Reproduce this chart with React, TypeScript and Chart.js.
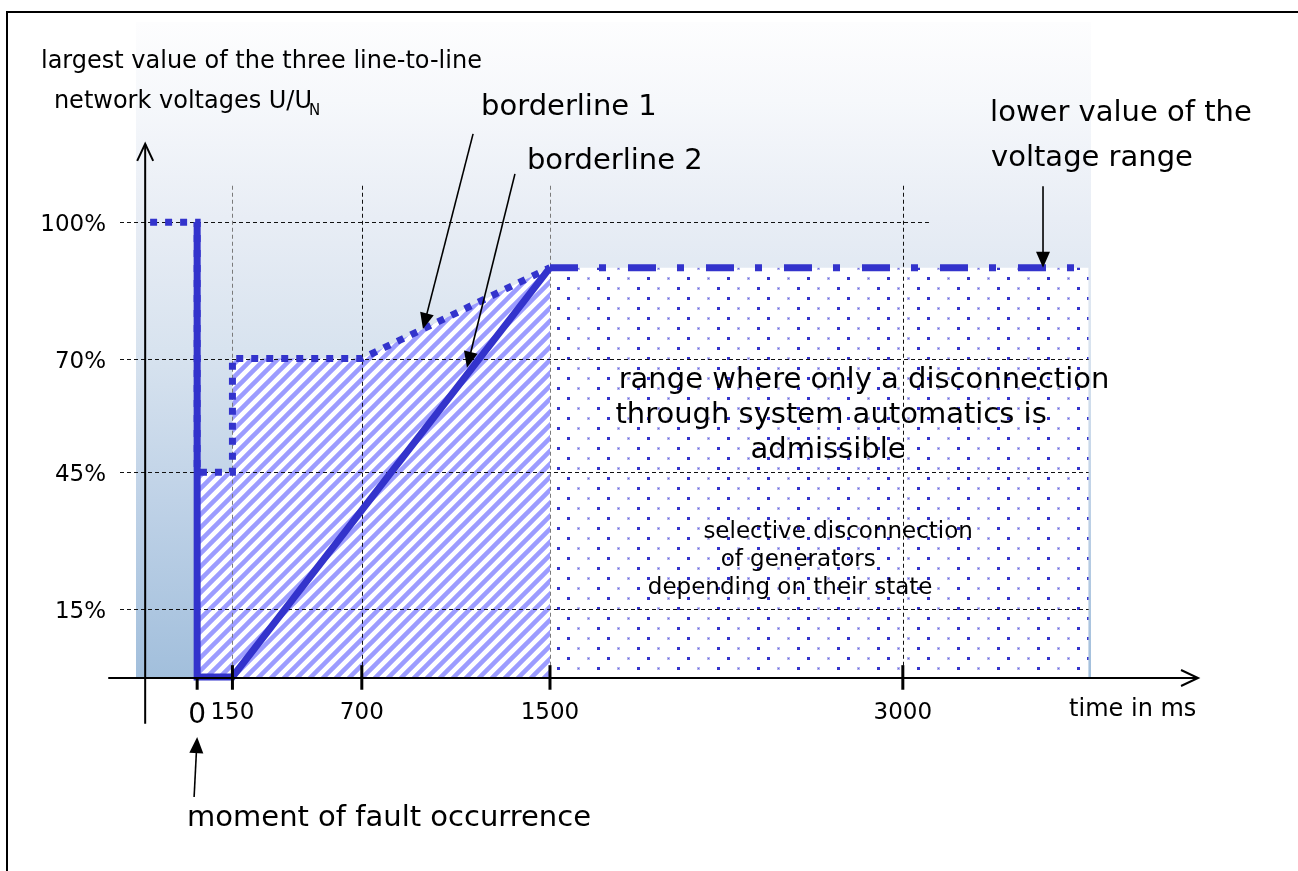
import { useEffect, useRef } from 'react';
import { Chart, registerables } from 'chart.js';

Chart.register(...registerables);

const FONT = '"DejaVu Sans", Verdana, sans-serif';

// ---- axis ticks ----
const xTicks = [0, 150, 700, 1500, 3000];
const yTicks = [15, 45, 70, 100];

// ---- series (time in ms, voltage in % of U_N) ----
const borderline1Time = [-200, 0, 0, 150, 150, 700, 1500];
const borderline1Level = [100, 100, 45, 45, 70, 70, 90];

const borderline2Time = [0, 0, 150, 1500];
const borderline2Level = [100, 0, 0, 90];

const lowerLimitTime = [1500, 3730];
const lowerLimitLevel = [90, 90];

const automaticsRangeTime = [1500, 3790];
const automaticsRangeLevel = [90, 90];

const BLUE = '#3333cc';

const toPoints = (xs: number[], ys: number[]) => xs.map((x, i) => ({ x, y: ys[i] }));

// annotation texts in data coordinates (time, level)
const notes = [
  { text: 'largest value of the three line-to-line', t: -664, v: 135.2, size: 24, align: 'left' },
  { text: 'network voltages U/U', t: -609, v: 126.4, size: 24, align: 'left', sub: 'N' },
  { text: 'borderline 1', t: 1207, v: 125.3, size: 29, align: 'left' },
  { text: 'borderline 2', t: 1402, v: 113.4, size: 29, align: 'left' },
  { text: 'lower value of the', t: 3371, v: 124.0, size: 29, align: 'left' },
  { text: 'voltage range', t: 3375, v: 114.1, size: 29, align: 'left' },
  { text: 'range where only a disconnection', t: 2835, v: 65.3, size: 29, align: 'center' },
  { text: 'through system automatics is', t: 2695, v: 57.4, size: 29, align: 'center' },
  { text: 'admissible', t: 2682, v: 49.7, size: 29, align: 'center' },
  { text: 'selective disconnection', t: 2725, v: 31.9, size: 23, align: 'center' },
  { text: 'of generators', t: 2555, v: 25.7, size: 23, align: 'center' },
  { text: 'depending on their state', t: 2521, v: 19.6, size: 23, align: 'center' },
  { text: 'time in ms', t: 3707, v: -7.3, size: 24, align: 'left' },
  { text: 'moment of fault occurrence', t: -43, v: -31.0, size: 29, align: 'left' },
];

// pointer arrows: from (t1,v1) to tip (t2,v2)
const pointers = [
  { t1: 1173, v1: 119.4, t2: 960, v2: 76.5 },
  { t1: 1351, v1: 110.6, t2: 1147, v2: 68 },
  { t1: 3596, v1: 107.9, t2: 3596, v2: 90 },
  { t1: -13, v1: -26.4, t2: 0, v2: -13.2 },
];

function makeHatch(ctx: CanvasRenderingContext2D) {
  const s = 13;
  const c = document.createElement('canvas');
  c.width = s;
  c.height = s;
  const g = c.getContext('2d')!;
  g.fillStyle = '#ffffff';
  g.fillRect(0, 0, s, s);
  g.strokeStyle = '#9c9cff';
  g.lineWidth = 4.5;
  g.beginPath();
  g.moveTo(-2, s + 2);
  g.lineTo(s + 2, -2);
  g.moveTo(-4, 4);
  g.lineTo(4, -4);
  g.moveTo(s - 4, s + 4);
  g.lineTo(s + 4, s - 4);
  g.stroke();
  return ctx.createPattern(c, 'repeat')!;
}

function makeDots(ctx: CanvasRenderingContext2D) {
  const c = document.createElement('canvas');
  c.width = 40;
  c.height = 20;
  const g = c.getContext('2d')!;
  g.fillStyle = '#ffffff';
  g.fillRect(0, 0, 40, 20);
  const dark = (x: number, y: number) => {
    g.fillStyle = '#3333cc';
    g.fillRect(x, y, 3, 3);
  };
  const light = (x: number, y: number) => {
    g.fillStyle = '#b4b4f0';
    g.fillRect(x, y, 3, 3);
    g.fillStyle = '#6a6ad8';
    g.fillRect(x + 1, y + 1, 1, 1);
  };
  dark(0, 0);
  light(20, 0);
  light(10, 10);
  dark(30, 10);
  const p = ctx.createPattern(c, 'repeat')!;
  try {
    p.setTransform(new DOMMatrix().translate(7, 17));
  } catch (e) {
    /* ignore */
  }
  return p;
}

function openArrow(ctx: CanvasRenderingContext2D, x1: number, y1: number, x2: number, y2: number) {
  const a = Math.atan2(y2 - y1, x2 - x1);
  const len = 17;
  const half = 8;
  ctx.beginPath();
  ctx.moveTo(x1, y1);
  ctx.lineTo(x2, y2);
  ctx.stroke();
  ctx.beginPath();
  ctx.moveTo(x2 - len * Math.cos(a) - half * Math.sin(a), y2 - len * Math.sin(a) + half * Math.cos(a));
  ctx.lineTo(x2, y2);
  ctx.lineTo(x2 - len * Math.cos(a) + half * Math.sin(a), y2 - len * Math.sin(a) - half * Math.cos(a));
  ctx.stroke();
}

function solidArrow(ctx: CanvasRenderingContext2D, x1: number, y1: number, x2: number, y2: number) {
  const a = Math.atan2(y2 - y1, x2 - x1);
  const len = 16;
  const half = 7;
  ctx.beginPath();
  ctx.moveTo(x1, y1);
  ctx.lineTo(x2 - len * 0.8 * Math.cos(a), y2 - len * 0.8 * Math.sin(a));
  ctx.stroke();
  ctx.beginPath();
  ctx.moveTo(x2, y2);
  ctx.lineTo(x2 - len * Math.cos(a) - half * Math.sin(a), y2 - len * Math.sin(a) + half * Math.cos(a));
  ctx.lineTo(x2 - len * Math.cos(a) + half * Math.sin(a), y2 - len * Math.sin(a) - half * Math.cos(a));
  ctx.closePath();
  ctx.fill();
}

const diagramPlugin = {
  id: 'diagram',
  beforeDraw(chart: any) {
    const { ctx, chartArea: a } = chart;
    ctx.save();
    ctx.fillStyle = '#ffffff';
    ctx.fillRect(0, 0, chart.width, chart.height);
    // page frame
    ctx.strokeStyle = '#000';
    ctx.lineWidth = 2;
    ctx.beginPath();
    ctx.moveTo(7, chart.height);
    ctx.lineTo(7, 12);
    ctx.lineTo(chart.width, 12);
    ctx.stroke();
    // plot background gradient
    const g = ctx.createLinearGradient(0, a.top, 0, a.bottom);
    g.addColorStop(0, '#fdfdfe');
    g.addColorStop(0.12, '#f6f8fb');
    g.addColorStop(0.3, '#e8edf5');
    g.addColorStop(0.5, '#d8e3ef');
    g.addColorStop(0.73, '#bfd2e7');
    g.addColorStop(1, '#a2bfdc');
    ctx.fillStyle = g;
    ctx.fillRect(a.left, a.top, a.right - a.left, a.bottom - a.top);
    ctx.restore();
  },
  beforeDatasetsDraw(chart: any) {
    const { ctx } = chart;
    const xs = chart.scales.x;
    const ys = chart.scales.y;
    ctx.save();
    ctx.lineWidth = 1;
    ctx.setLineDash([4, 3]);
    yTicks.forEach((v) => {
      const y = Math.round(ys.getPixelForValue(v)) + 0.5;
      const right = v === 100 ? 3111 : automaticsRangeTime[1];
      ctx.strokeStyle = '#111';
      ctx.beginPath();
      ctx.moveTo(xs.getPixelForValue(-328), y);
      ctx.lineTo(xs.getPixelForValue(right), y);
      ctx.stroke();
    });
    xTicks
      .filter((t) => t !== 0)
      .forEach((t) => {
        const x = Math.round(xs.getPixelForValue(t)) + 0.5;
        ctx.strokeStyle = t === 150 || t === 1500 ? '#7a7a7a' : '#111';
        ctx.beginPath();
        ctx.moveTo(x, ys.getPixelForValue(108));
        ctx.lineTo(x, ys.getPixelForValue(0));
        ctx.stroke();
      });
    ctx.restore();
  },
  afterDatasetsDraw(chart: any) {
    const { ctx } = chart;
    const xs = chart.scales.x;
    const ys = chart.scales.y;
    const X = (t: number) => xs.getPixelForValue(t);
    const Y = (v: number) => ys.getPixelForValue(v);
    ctx.save();
    ctx.setLineDash([]);
    ctx.strokeStyle = '#000';
    ctx.fillStyle = '#000';
    ctx.lineWidth = 2;
    // axes with open arrow heads
    openArrow(ctx, X(-221), Y(-10.3), X(-221), Y(117.2));
    openArrow(ctx, X(-378), Y(0) + 1, X(4255), Y(0) + 1);
    // tick marks
    ctx.lineWidth = 3;
    xTicks.forEach((t) => {
      ctx.beginPath();
      ctx.moveTo(X(t), t === 0 ? Y(0) : Y(2.6));
      ctx.lineTo(X(t), Y(-2.8));
      ctx.stroke();
    });
    // pointer arrows
    ctx.lineWidth = 1.6;
    pointers.forEach((p) => solidArrow(ctx, X(p.t1), Y(p.v1), X(p.t2), Y(p.v2)));
    // texts
    ctx.fillStyle = '#000';
    ctx.textBaseline = 'middle';
    notes.forEach((n: any) => {
      ctx.font = `${n.size}px ${FONT}`;
      ctx.textAlign = n.align;
      const x = X(n.t);
      const y = Y(n.v);
      ctx.fillText(n.text, x, y);
      if (n.sub) {
        const w = ctx.measureText(n.text).width;
        ctx.font = `15px ${FONT}`;
        ctx.textAlign = 'left';
        ctx.fillText(n.sub, x + w - 3, y + 9);
      }
    });
    ctx.restore();
  },
};

export default function App() {
  const ref = useRef<HTMLCanvasElement | null>(null);

  useEffect(() => {
    const canvas = ref.current!;
    const ctx = canvas.getContext('2d')!;
    Chart.defaults.font.family = FONT;
    const hatch = makeHatch(ctx);
    const dots = makeDots(ctx);

    const borderline1 = toPoints(borderline1Time, borderline1Level);
    const chart = new Chart(ctx, {
      type: 'line',
      data: {
        datasets: [
          {
            label: 'borderline 2',
            data: toPoints(borderline2Time, borderline2Level),
            borderColor: BLUE,
            borderWidth: 7,
            borderJoinStyle: 'miter',
            borderCapStyle: 'butt',
            pointRadius: 0,
            fill: false,
            clip: false,
            order: 0,
          },
          {
            label: 'borderline 1',
            data: borderline1,
            borderColor: BLUE,
            borderWidth: 7,
            borderDash: [7, 8],
            borderCapStyle: 'butt',
            borderJoinStyle: 'miter',
            pointRadius: 0,
            fill: false,
            clip: false,
            order: 1,
          },
          {
            label: 'lower value of the voltage range',
            data: toPoints(lowerLimitTime, lowerLimitLevel),
            borderColor: BLUE,
            borderWidth: 7,
            borderDash: [28, 21, 7, 22],
            borderCapStyle: 'butt',
            pointRadius: 0,
            fill: false,
            clip: false,
            order: 2,
          },
          {
            label: 'area below borderline 1',
            data: borderline1.slice(2),
            borderColor: 'rgba(0,0,0,0)',
            borderWidth: 0,
            pointRadius: 0,
            backgroundColor: hatch,
            fill: 'origin',
            order: 3,
          },
          {
            label: 'range for system automatics',
            data: toPoints(automaticsRangeTime, automaticsRangeLevel),
            borderColor: 'rgba(0,0,0,0)',
            borderWidth: 0,
            pointRadius: 0,
            backgroundColor: dots,
            fill: 'origin',
            order: 4,
          },
        ],
      },
      options: {
        animation: false,
        responsive: false,
        events: [],
        layout: { padding: { top: 22, right: 207, left: 0, bottom: 0 } },
        plugins: {
          legend: { display: false },
          tooltip: { enabled: false },
          filler: { drawTime: 'beforeDatasetsDraw' },
        },
        scales: {
          x: {
            type: 'linear',
            min: -260,
            max: 3800,
            grid: { display: false, drawTicks: false },
            border: { display: false },
            afterBuildTicks: (s: any) => {
              s.ticks = xTicks.map((v) => ({ value: v }));
            },
            afterFit: (s: any) => {
              s.height = 194;
              s.paddingLeft = 0;
              s.paddingRight = 0;
            },
            ticks: {
              autoSkip: false,
              maxRotation: 0,
              padding: 25,
              color: '#000',
              font: (c: any) => ({ family: FONT, size: c.tick && c.tick.value === 0 ? 28 : 23, lineHeight: 1 }),
              callback: (v: any) => String(v),
            },
          },
          y: {
            type: 'linear',
            min: 0,
            max: 144,
            grid: { display: false, drawTicks: false },
            border: { display: false },
            afterBuildTicks: (s: any) => {
              s.ticks = yTicks.map((v) => ({ value: v }));
            },
            afterFit: (s: any) => {
              s.width = 136;
              s.paddingTop = 0;
              s.paddingBottom = 0;
            },
            ticks: {
              padding: 30,
              labelOffset: 3,
              color: '#000',
              font: { family: FONT, size: 23, lineHeight: 1 },
              callback: (v: any) => `${v}%`,
            },
          },
        },
      } as any,
      plugins: [diagramPlugin as any],
    });
    return () => chart.destroy();
  }, []);

  return (
    <div style={{ position: 'absolute', left: 0, top: 0, width: 1298, height: 871, background: '#fff' }}>
      <canvas ref={ref} width={1298} height={871} style={{ display: 'block' }} />
    </div>
  );
}
